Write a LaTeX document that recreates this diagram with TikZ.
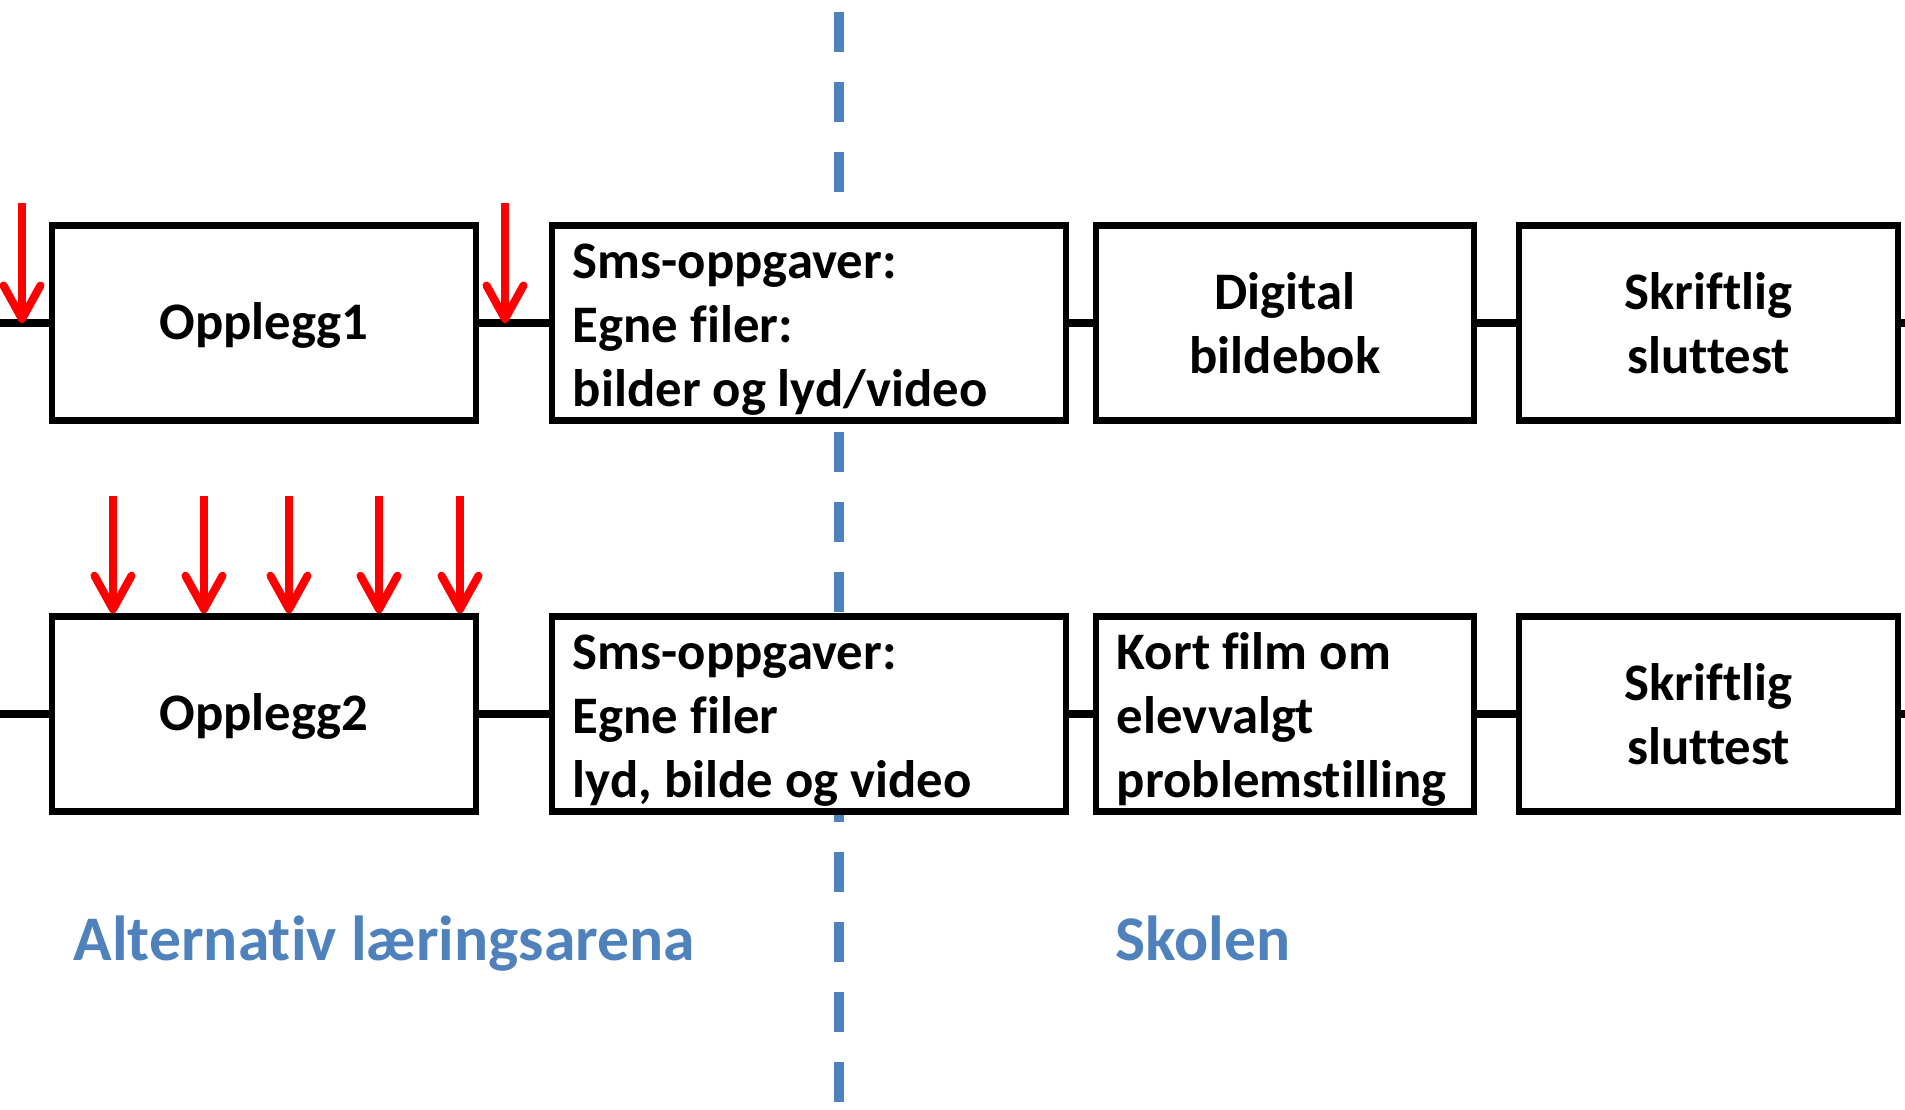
\documentclass[tikz,border=0pt]{standalone}
\usepackage{fontspec}
\setmainfont{Carlito}[Ligatures={NoCommon}]
\usetikzlibrary{arrows.meta}
\definecolor{skoleblue}{RGB}{79,129,189}
\begin{document}
\begin{tikzpicture}[x=0.01cm,y=-0.01cm,
    boks/.style={draw=black,line width=1.8pt,fill=white,minimum height=1.95cm,
        inner xsep=0.21cm,inner ysep=0pt,font=\fontsize{15}{18.2}\selectfont\bfseries},
    venstre/.style={boks,align=left,text width=#1,
        execute at begin node={\spaceskip=\fontdimen2\font\relax\rule{0pt}{13.6pt}}},
    midt/.style={boks,align=center,text width=#1},
    linje/.style={line width=2.2pt},
    pil/.style={red,line width=2.3pt,
        -{Straight Barb[length=9.5pt,width=10.5pt,line cap=round,line join=round]}},
    arena/.style={skoleblue,inner sep=0pt,anchor=base west,
        font=\fontsize{18.1}{22}\selectfont\bfseries}]
    \useasboundingbox (0,0) rectangle (1905,1110);
    % skillelinje
    \draw[skoleblue,line width=2.85pt,dash pattern=on 11.4pt off 8.5pt] (839,12) -- (839,1106);
    % rad 1
    \coordinate (l1) at (0,323);
    \coordinate (r1) at (1905,323);
    \node[midt=3.82cm,text depth=1.2pt] (o1) at (264,323) {Opplegg1};
    \node[venstre=4.72cm] (s1) at (809,323) {Sms-oppgaver:\\Egne filer:\\bilder og lyd/video};
    \node[midt=3.36cm] (d1) at (1285,323) {Digital\\bildebok};
    \node[midt=3.37cm] (t1) at (1708.5,323) {Skriftlig\\sluttest};
    \draw[linje] (l1) -- (o1) -- (s1) -- (d1) -- (t1) -- (r1);
    \coordinate (p1) at (22,203);
    \coordinate (p2) at (505,203);
    \draw[pil] (p1) -- (p1 |- l1);
    \draw[pil] (p2) -- (p2 |- l1);
    % rad 2
    \coordinate (l2) at (0,714);
    \coordinate (r2) at (1905,714);
    \node[midt=3.82cm,text depth=1.2pt] (o2) at (264,714) {Opplegg2};
    \node[venstre=4.72cm] (s2) at (809,714) {Sms-oppgaver:\\Egne filer\\lyd, bilde og video};
    \node[venstre=3.36cm] (k2) at (1285,714) {Kort film om\\elevvalgt\\problemstilling};
    \node[midt=3.37cm] (t2) at (1708.5,714) {Skriftlig\\sluttest};
    \draw[linje] (l2) -- (o2) -- (s2) -- (k2) -- (t2) -- (r2);
    \foreach \x [count=\i] in {113,204,289,379,460}{
        \coordinate (q\i) at (\x,496);
        \draw[pil] (q\i) -- (q\i |- o2.north);
    }
    % arenaer
    \node[arena] (alt) at (73,961) {Alternativ læringsarena};
    \node[arena] (skole) at (1115,961) {Skolen};
\end{tikzpicture}
\end{document}
